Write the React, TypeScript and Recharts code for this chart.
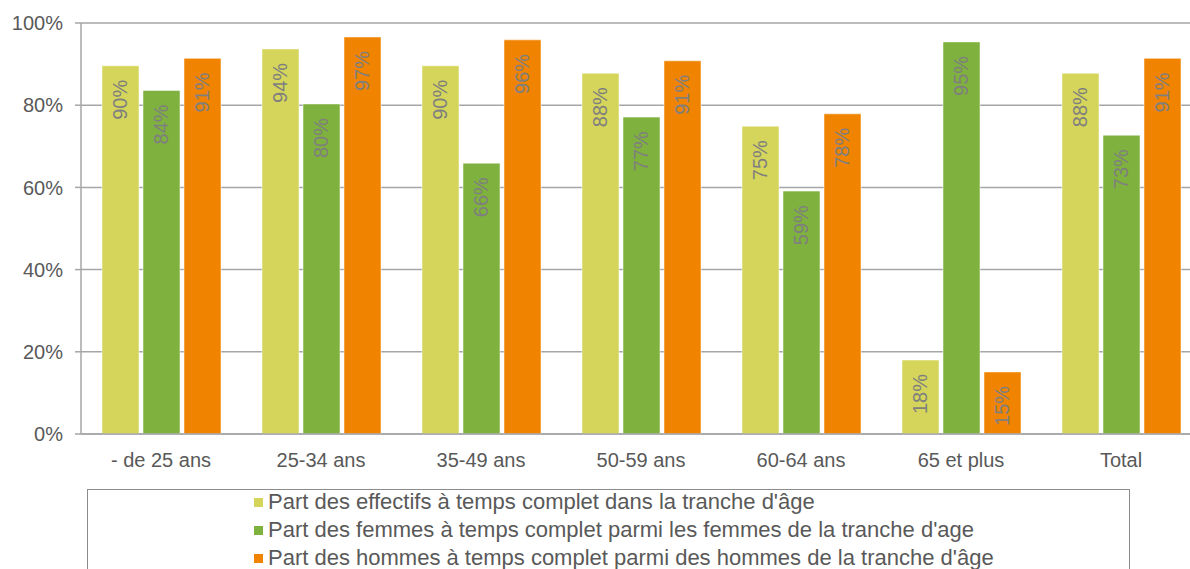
import { BarChart, Bar, XAxis, YAxis, CartesianGrid, LabelList } from "recharts";

const categories = ["- de 25 ans", "25-34 ans", "35-49 ans", "50-59 ans", "60-64 ans", "65 et plus", "Total"];
const effectifs = [89.6, 93.7, 89.6, 87.8, 74.9, 18.0, 87.8];
const femmes = [83.6, 80.3, 65.9, 77.1, 59.1, 95.4, 72.7];
const hommes = [91.4, 96.6, 95.9, 90.8, 77.9, 15.1, 91.4];
const yTicks = [0, 20, 40, 60, 80, 100];

const series = [
  { key: "effectifs", name: "Part des effectifs à temps complet dans la tranche d'âge", color: "#d5d55b" },
  { key: "femmes", name: "Part des femmes à temps complet parmi les femmes de la tranche d'age", color: "#7eb13d" },
  { key: "hommes", name: "Part des hommes à temps complet parmi des hommes de la tranche d'âge", color: "#f08300" },
];

const data = categories.map((name, i) => ({
  name,
  effectifs: effectifs[i],
  femmes: femmes[i],
  hommes: hommes[i],
}));

const FONT = "'Liberation Sans', Arial, sans-serif";

const BarLabel = (props: any) => {
  const { x, y, width, value } = props;
  const cx = x + width / 2;
  const cy = y + 14;
  return (
    <text
      x={cx}
      y={cy}
      transform={`rotate(-90 ${cx} ${cy})`}
      textAnchor="end"
      dominantBaseline="central"
      fill="#7f7f7f"
      fontSize={20}
      fontFamily={FONT}
    >
      {`${Math.round(value)}%`}
    </text>
  );
};

export default function App() {
  return (
    <div
      style={{
        position: "relative",
        width: 1190,
        height: 569,
        overflow: "hidden",
        background: "#fff",
        fontFamily: FONT,
      }}
    >
      <style>{"html,body{margin:0;padding:0;overflow:hidden}"}</style>
      {/* the plot runs past the right edge in the reference, so the chart is wider than the frame */}
      <BarChart
        width={1201}
        height={569}
        data={data}
        margin={{ top: 23, right: 0, left: 0, bottom: 105 }}
        barSize={37}
        barGap={4}
      >
        <CartesianGrid vertical={false} stroke="#a6a6a6" strokeWidth={1.5} />
        <XAxis
          dataKey="name"
          height={30}
          axisLine={{ stroke: "#a6a6a6", strokeWidth: 1.5 }}
          tickLine={false}
          tickSize={0}
          tickMargin={19}
          tick={{ fill: "#595959", fontSize: 20, fontFamily: FONT }}
        />
        <YAxis
          width={81}
          domain={[0, 100]}
          ticks={yTicks}
          tickFormatter={(v) => `${v}%`}
          axisLine={{ stroke: "#a6a6a6", strokeWidth: 1.5 }}
          tickLine={{ stroke: "#a6a6a6", strokeWidth: 1.5 }}
          tickSize={6}
          tickMargin={12}
          tick={{ fill: "#595959", fontSize: 20, fontFamily: FONT }}
        />
        {series.map((s) => (
          <Bar
            key={s.key}
            dataKey={s.key}
            fill={s.color}
            stroke="#ffffff"
            strokeOpacity={0.5}
            isAnimationActive={false}
          >
            <LabelList dataKey={s.key} content={<BarLabel />} />
          </Bar>
        ))}
      </BarChart>
      <div
        style={{
          position: "absolute",
          left: 87,
          top: 489,
          width: 1043,
          height: 100,
          border: "1px solid #8c8c8c",
          boxSizing: "border-box",
        }}
      >
        {series.map((s, i) => (
          <div
            key={s.key}
            style={{
              position: "absolute",
              left: 166,
              top: 2 + i * 28,
              display: "flex",
              alignItems: "center",
              fontSize: 22,
              lineHeight: "20px",
              color: "#595959",
              whiteSpace: "nowrap",
            }}
          >
            <span style={{ display: "inline-block", width: 9, height: 9, background: s.color, marginRight: 5 }} />
            {s.name}
          </div>
        ))}
      </div>
    </div>
  );
}
